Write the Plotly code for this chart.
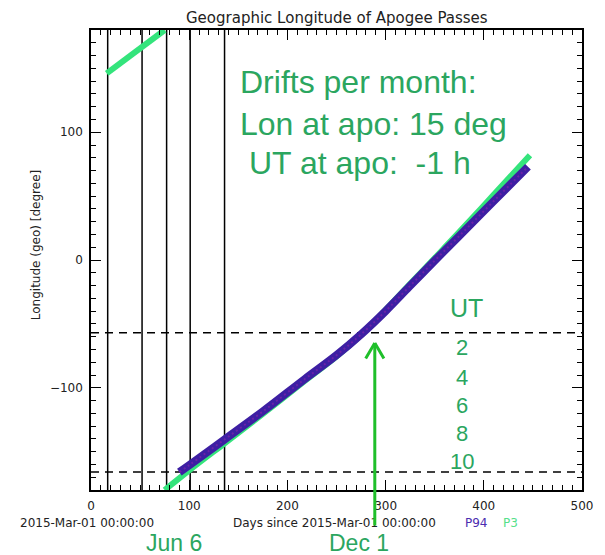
import plotly.graph_objects as go

# ---- data ----
P94_DAYS = [90, 101, 135, 175, 218, 250, 276, 300, 324, 350, 374, 410, 445]
P94_LON = [-166, -160, -141, -118.5, -93, -74.5, -57.5, -40, -21, -0.5, 18, 46, 73]

P3_DAYS = [16, 75, None, 75, 101, 135, 175, 218, 250, 276, 300, 324, 350, 374, 410, 447]
P3_LON = [146, 180, None, -180, -164, -144, -120.5, -94.5, -75.5, -58, -39, -19.5, 1.5, 21, 51, 82]

VLINE_DAYS = [17, 52, 77, 101, 136]
HLINE_LON = [-57, -166]

X_TICKS = [0, 100, 200, 300, 400, 500]
Y_TICKS = [-100, 0, 100]
UT_LABELS = ["2", "4", "6", "8", "10"]

TEXT_GREEN = "#2ba65f"
ARROW_GREEN = "#1fbf2a"
AX_FONT = "DejaVu Sans"
BIG_FONT = "Liberation Sans"

fig = go.Figure()
fig.add_trace(go.Scatter(x=P3_DAYS, y=P3_LON, mode="lines", connectgaps=False,
                         line=dict(color="#34e47c", width=6, shape="spline"), name="P3"))
fig.add_trace(go.Scatter(x=P94_DAYS, y=P94_LON, mode="lines",
                         line=dict(color="#3d1fa3", width=8, shape="spline"), name="P94"))
fig.add_trace(go.Scatter(x=P94_DAYS, y=P94_LON, mode="lines",
                         line=dict(color="#6a22a8", width=2, shape="spline", dash="2px,3px"),
                         name="P94 texture", hoverinfo="skip"))

shapes = []
for d in VLINE_DAYS:
    shapes.append(dict(type="line", xref="x", yref="paper", x0=d, x1=d, y0=0, y1=1,
                       line=dict(color="black", width=1.5), layer="below"))
for v in HLINE_LON:
    shapes.append(dict(type="line", xref="paper", yref="y", x0=0, x1=1, y0=v, y1=v,
                       line=dict(color="black", width=1.5, dash="8px,6px"), layer="below"))

ann = []
def txt(s, x, y, size, color="#222", xanchor="center", font=AX_FONT, **kw):
    ann.append(dict(text=s, x=x, y=y, xref="paper", yref="paper", showarrow=False,
                    xanchor=xanchor, yanchor="middle",
                    font=dict(family=font, size=size, color=color), **kw))

def px(x):
    return (x - 91) / 502.0

def py(y):
    return (490 - y) / 460.0

txt("Geographic Longitude of Apogee Passes", 0.5, py(18), 15)
txt("Longitude (geo) [degree]", px(35), py(245), 12, textangle=-90)
txt("2015-Mar-01 00:00:00", px(87), py(523), 12)
txt("Days since 2015-Mar-01 00:00:00", px(340), py(523), 12)
txt("P94", px(471), py(523), 12, color="#4b2db0", xanchor="left")
txt("P3", px(510), py(523), 12, color="#55e08a", xanchor="left")

txt("Drifts per month:", px(241), py(82), 32, color=TEXT_GREEN, xanchor="left", font=BIG_FONT)
txt("Lon at apo: 15 deg", px(241), py(124), 32, color=TEXT_GREEN, xanchor="left", font=BIG_FONT)
txt("UT at apo:\u00a0 -1 h", px(250), py(163), 32, color=TEXT_GREEN, xanchor="left", font=BIG_FONT)

txt("UT", px(475), py(308), 25, color=TEXT_GREEN, font=BIG_FONT)
for lab, yy in zip(UT_LABELS, [347, 377, 405, 433, 461]):
    txt(lab, px(470), py(yy), 22, color=TEXT_GREEN, font=BIG_FONT)

txt("Jun 6", px(176), py(543), 23, color=TEXT_GREEN, font=BIG_FONT)
txt("Dec 1", px(365), py(543), 23, color=TEXT_GREEN, font=BIG_FONT)

# arrow (shaft + open V head), tip in data coordinates
ARROW_DAY, ARROW_TIP = 289, -65
for axo, ayo in [(0, 184), (-10, 17), (10, 17)]:
    ann.append(dict(text="", x=ARROW_DAY, y=ARROW_TIP, xref="x", yref="y",
                    showarrow=True, arrowhead=0, arrowwidth=3, arrowcolor=ARROW_GREEN,
                    ax=axo, ay=ayo, standoff=0))

axis_common = dict(
    ticks="inside", ticklen=10, tickwidth=1.3, tickcolor="black",
    showline=True, linecolor="black", linewidth=1.5, mirror="allticks",
    showgrid=False, zeroline=False,
    tickfont=dict(family=AX_FONT, size=12, color="#222"),
)

fig.update_layout(
    width=605, height=555,
    margin=dict(l=91, r=12, t=30, b=65),
    plot_bgcolor="white", paper_bgcolor="white",
    showlegend=False,
    xaxis=dict(range=[0, 500], tickvals=X_TICKS, ticklabelstandoff=4,
               minor=dict(dtick=10, tick0=0, ticks="inside", ticklen=5, tickwidth=1, tickcolor="black"),
               **axis_common),
    yaxis=dict(range=[-180, 180], tickvals=Y_TICKS, ticklabelstandoff=4,
               minor=dict(dtick=10, tick0=0, ticks="inside", ticklen=5, tickwidth=1, tickcolor="black"),
               **axis_common),
    shapes=shapes,
    annotations=ann,
)

fig.write_html("out.html")
